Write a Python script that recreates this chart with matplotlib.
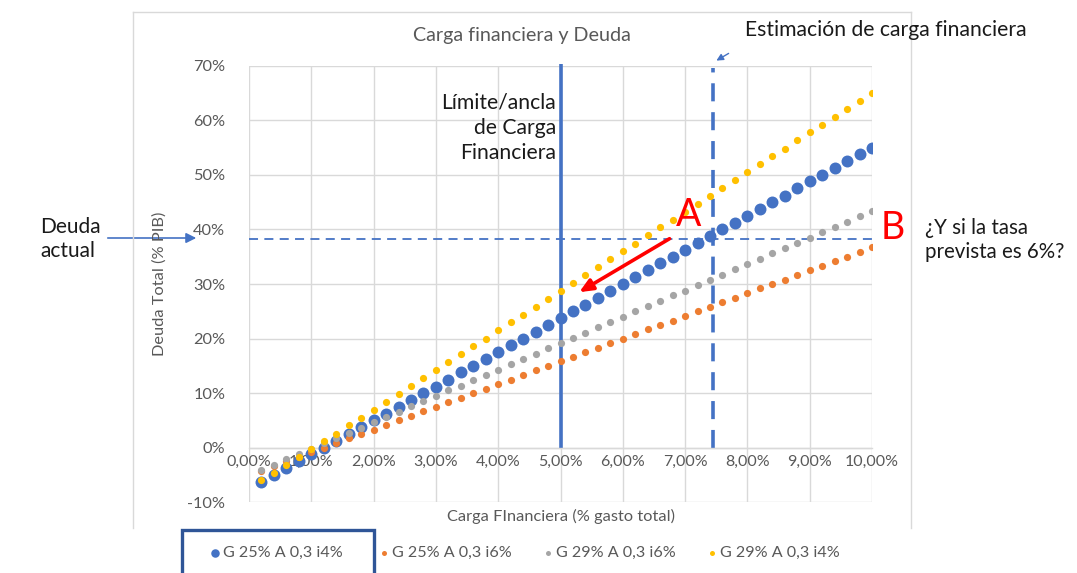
import matplotlib
matplotlib.use("Agg")
import matplotlib.pyplot as plt
from matplotlib.lines import Line2D
from matplotlib.patches import FancyArrowPatch, Rectangle

plt.rcParams['font.family'] = ['Lato', 'DejaVu Sans']

# ---------------- data ----------------
carga = [0.2, 0.4, 0.6, 0.8, 1.0, 1.2, 1.4, 1.6, 1.8, 2.0,
         2.2, 2.4, 2.6, 2.8, 3.0, 3.2, 3.4, 3.6, 3.8, 4.0,
         4.2, 4.4, 4.6, 4.8, 5.0, 5.2, 5.4, 5.6, 5.8, 6.0,
         6.2, 6.4, 6.6, 6.8, 7.0, 7.2, 7.4, 7.6, 7.8, 8.0,
         8.2, 8.4, 8.6, 8.8, 9.0, 9.2, 9.4, 9.6, 9.8, 10.0]

g25_i4 = [-6.2, -5.0, -3.8, -2.5, -1.2, 0.0, 1.2, 2.5, 3.8, 5.0,
          6.2, 7.5, 8.8, 10.0, 11.2, 12.5, 13.8, 15.0, 16.2, 17.5,
          18.8, 20.0, 21.2, 22.5, 23.8, 25.0, 26.2, 27.5, 28.8, 30.0,
          31.2, 32.5, 33.8, 35.0, 36.2, 37.5, 38.8, 40.0, 41.2, 42.5,
          43.8, 45.0, 46.2, 47.5, 48.8, 50.0, 51.2, 52.5, 53.8, 55.0]

g25_i6 = [-4.2, -3.3, -2.5, -1.7, -0.8, 0.0, 0.8, 1.7, 2.5, 3.3,
          4.2, 5.0, 5.8, 6.7, 7.5, 8.3, 9.2, 10.0, 10.8, 11.7,
          12.5, 13.3, 14.2, 15.0, 15.8, 16.7, 17.5, 18.3, 19.2, 20.0,
          20.8, 21.7, 22.5, 23.3, 24.2, 25.0, 25.8, 26.7, 27.5, 28.3,
          29.2, 30.0, 30.8, 31.7, 32.5, 33.3, 34.2, 35.0, 35.8, 36.7]

g29_i6 = [-4.0, -3.1, -2.1, -1.1, -0.2, 0.8, 1.8, 2.7, 3.7, 4.7,
          5.6, 6.6, 7.6, 8.5, 9.5, 10.5, 11.4, 12.4, 13.4, 14.3,
          15.3, 16.3, 17.2, 18.2, 19.2, 20.1, 21.1, 22.1, 23.0, 24.0,
          25.0, 25.9, 26.9, 27.9, 28.8, 29.8, 30.8, 31.7, 32.7, 33.7,
          34.6, 35.6, 36.6, 37.5, 38.5, 39.5, 40.4, 41.4, 42.4, 43.3]

g29_i4 = [-6.0, -4.6, -3.2, -1.7, -0.2, 1.2, 2.6, 4.1, 5.5, 7.0,
          8.4, 9.9, 11.3, 12.8, 14.2, 15.7, 17.2, 18.6, 20.0, 21.5,
          23.0, 24.4, 25.8, 27.3, 28.8, 30.2, 31.6, 33.1, 34.6, 36.0,
          37.4, 38.9, 40.4, 41.8, 43.2, 44.7, 46.2, 47.6, 49.0, 50.5,
          52.0, 53.4, 54.8, 56.3, 57.8, 59.2, 60.6, 62.1, 63.6, 65.0]

series_labels = ["G 25% A 0,3 i4%", "G 25% A 0,3 i6%",
                 "G 29% A 0,3 i6%", "G 29% A 0,3 i4%"]
x_ticks = [0, 1, 2, 3, 4, 5, 6, 7, 8, 9, 10]
x_tick_labels = ["0,00%", "1,00%", "2,00%", "3,00%", "4,00%", "5,00%",
                 "6,00%", "7,00%", "8,00%", "9,00%", "10,00%"]
y_ticks = [-10, 0, 10, 20, 30, 40, 50, 60, 70]
y_tick_labels = ["-10%", "0%", "10%", "20%", "30%", "40%", "50%", "60%", "70%"]

deuda_actual = 38.3
limite_carga = 5.0
estimacion_carga = 7.45
arrow_a = [(6.75, 38.3), (5.3, 28.5)]

# ---------------- figure ----------------
W, H = 1077, 573
fig = plt.figure(figsize=(W / 100, H / 100), dpi=100)

def fx(x):
    return x / W

def fy(y):
    return 1 - y / H

BLUE = "#4472C4"
ORANGE = "#ED7D31"
GRAY = "#A5A5A5"
YELLOW = "#FFC000"
TXT = "#595959"
GRID = "#D9D9D9"

ax = fig.add_axes([fx(249), fy(502.3), fx(872) - fx(249), fy(65.7) - fy(502.3)])
ax.set_xlim(0, 10)
ax.set_ylim(-10, 70)

for v in x_ticks:
    ax.axvline(v, color=GRID, lw=1.0, zorder=0)
for v in y_ticks:
    ax.axhline(v, color=GRID, lw=1.0, zorder=0)

for s in ["top", "right", "left"]:
    ax.spines[s].set_visible(False)
ax.spines["bottom"].set_position(("data", 0))
ax.spines["bottom"].set_color(GRID)
ax.spines["bottom"].set_linewidth(1.0)

ax.set_xticks(x_ticks)
ax.set_xticklabels(x_tick_labels, color=TXT, fontsize=11.5)
ax.set_yticks(y_ticks)
ax.set_yticklabels(y_tick_labels, color=TXT, fontsize=11.8)
ax.tick_params(axis="both", length=0)
ax.tick_params(axis="x", pad=5)
ax.tick_params(axis="y", pad=17)

# reference lines
ax.plot([limite_carga, limite_carga], [0, 70.4], color=BLUE, lw=2.6, zorder=2,
        clip_on=False, solid_capstyle="butt")
ax.plot([estimacion_carga, estimacion_carga], [0, 69.5], color=BLUE, lw=2.6,
        ls=(0, (5, 3)), zorder=2, clip_on=False)
ax.plot([0, 10], [deuda_actual, deuda_actual], color=BLUE, lw=1.3,
        ls=(0, (5, 3.5)), zorder=2)

# series
ax.scatter(carga, g25_i4, s=74, color=BLUE, zorder=3, linewidths=0)
ax.scatter(carga, g25_i6, s=27, color=ORANGE, zorder=4, linewidths=0)
ax.scatter(carga, g29_i6, s=27, color=GRAY, zorder=5, linewidths=0)
ax.scatter(carga, g29_i4, s=27, color=YELLOW, zorder=6, linewidths=0)

# red arrow A
ax.annotate("", xy=arrow_a[1], xytext=arrow_a[0],
            arrowprops=dict(arrowstyle="-|>,head_length=0.8,head_width=0.35",
                            color="#FF0000", lw=2.6, shrinkA=0, shrinkB=0),
            zorder=7)

# ---------------- chart frame ----------------
frame_col = "#D9D9D9"
fig.add_artist(Line2D([fx(133), fx(911)], [fy(12), fy(12)], color=frame_col, lw=1))
fig.add_artist(Line2D([fx(133), fx(133)], [fy(12), fy(528)], color=frame_col, lw=1))
fig.add_artist(Line2D([fx(911), fx(911)], [fy(12), fy(528)], color=frame_col, lw=1))

# ---------------- texts ----------------
fig.text(fx(522), fy(35), "Carga financiera y Deuda", color=TXT, fontsize=14.2,
         ha="center", va="center")
fig.text(fx(561), fy(516), "Carga FInanciera (% gasto total)", color=TXT,
         fontsize=11.8, ha="center", va="center")
fig.text(fx(160), fy(284), "Deuda Total (% PIB)", color=TXT, fontsize=11.8,
         ha="center", va="center", rotation=90)

fig.text(fx(745), fy(30), "Estimación de carga financiera", color="#1a1a1a",
         fontsize=15.2, ha="left", va="center")
fig.add_artist(FancyArrowPatch((fx(731), fy(52)), (fx(714), fy(62)),
                               transform=fig.transFigure, color=BLUE, lw=1.0,
                               arrowstyle="-|>,head_length=4,head_width=2"))

fig.text(fx(556), fy(128), "Límite/ancla\nde Carga\nFinanciera", color="#1a1a1a",
         fontsize=15.2, ha="right", va="center", linespacing=1.33)

fig.text(fx(40), fy(239), "Deuda\nactual", color="#1a1a1a", fontsize=15,
         ha="left", va="center", linespacing=1.25)
fig.add_artist(FancyArrowPatch((fx(105), fy(238)), (fx(199), fy(238)),
                               transform=fig.transFigure, color=BLUE, lw=1.2,
                               arrowstyle="-|>,head_length=6,head_width=3"))

fig.text(fx(925), fy(240), "¿Y si la tasa\nprevista es 6%?", color="#1a1a1a",
         fontsize=14.8, ha="left", va="center", linespacing=1.3)

fig.text(fx(689), fy(215), "A", color="#FF0000", fontsize=27, ha="center", va="center")
fig.text(fx(893), fy(228), "B", color="#FF0000", fontsize=27, ha="center", va="center")

# ---------------- legend ----------------
leg_y = 553
leg_items = [(215, BLUE, 8.5), (384, ORANGE, 5), (548, GRAY, 5), (712, YELLOW, 5)]
for (lx, col, ms), lab in zip(leg_items, series_labels):
    fig.add_artist(Line2D([fx(lx)], [fy(leg_y)], marker="o", color=col,
                          markersize=ms * 0.72, markeredgewidth=0, ls="none"))
    fig.text(fx(lx + 8), fy(leg_y), lab, color=TXT, fontsize=11.6,
             ha="left", va="center")

fig.add_artist(Rectangle((fx(182), fy(580)), fx(374) - fx(182), fy(529.5) - fy(580),
                         transform=fig.transFigure, fill=False,
                         edgecolor="#2F5597", lw=2.4))

fig.savefig("out.png", dpi=100)
